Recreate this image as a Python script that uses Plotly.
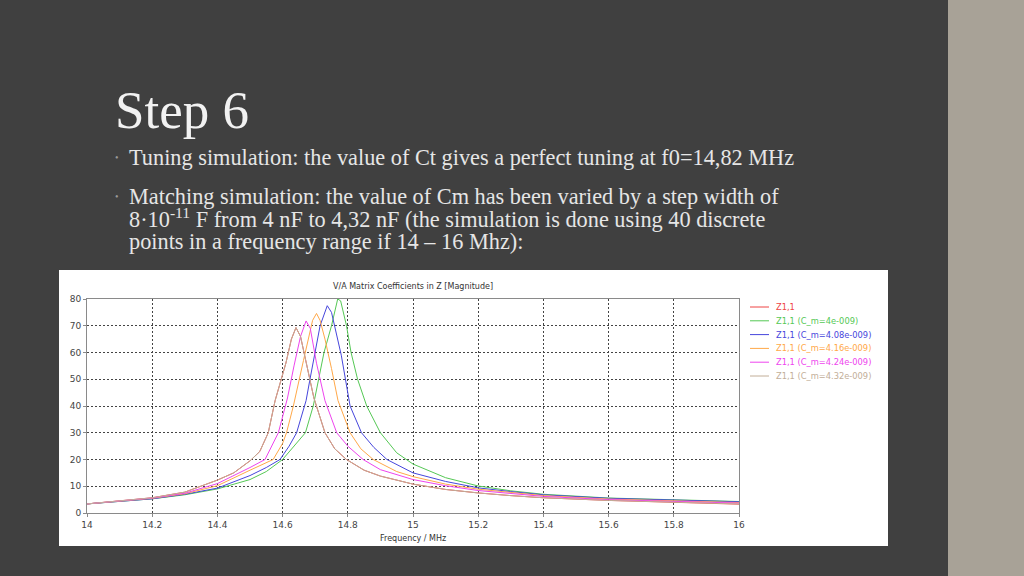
import plotly.graph_objects as go

# ---------------- data ----------------
x_ticks = [14.0, 14.2, 14.4, 14.6, 14.8, 15.0, 15.2, 15.4, 15.6, 15.8, 16.0]
x_tick_labels = ["14", "14.2", "14.4", "14.6", "14.8", "15", "15.2", "15.4", "15.6", "15.8", "16"]
y_ticks = [0, 10, 20, 30, 40, 50, 60, 70, 80]

series_names = ["Z1,1", "Z1,1 (C_m=4e-009)", "Z1,1 (C_m=4.08e-009)",
                "Z1,1 (C_m=4.16e-009)", "Z1,1 (C_m=4.24e-009)", "Z1,1 (C_m=4.32e-009)"]
series_colors = ["#ee4444", "#55c855", "#4646dc", "#ffa848", "#ee44ee", "#c2ae98"]

f_green = [14.0, 14.1, 14.2, 14.3, 14.4, 14.5, 14.55, 14.6, 14.64, 14.67, 14.694, 14.71, 14.727,
           14.75, 14.769, 14.778, 14.796, 14.81, 14.83, 14.858, 14.9, 14.95, 15.0, 15.1, 15.2,
           15.3, 15.4, 15.6, 15.8, 16.0]
v_green = [3.4, 4.3, 5.3, 6.8, 9.0, 12.5, 15.5, 20.0, 25.5, 30.0, 40.0, 50.0, 60.0,
           70.0, 80.0, 79.3, 70.0, 60.0, 50.0, 40.0, 30.0, 22.5, 18.3, 13.2, 10.1,
           8.3, 7.0, 5.6, 4.9, 4.3]

f_blue = [14.0, 14.1, 14.2, 14.3, 14.4, 14.5, 14.55, 14.592, 14.62, 14.643, 14.672, 14.684, 14.7,
          14.715, 14.737, 14.75, 14.78, 14.807, 14.842, 14.88, 14.92, 15.0, 15.1, 15.2,
          15.3, 15.4, 15.6, 15.8, 16.0]
v_blue = [3.4, 4.3, 5.3, 7.0, 9.3, 14.0, 17.0, 20.0, 25.0, 30.0, 42.0, 50.0, 60.0,
          70.0, 77.5, 75.0, 59.0, 40.0, 30.0, 24.5, 20.0, 15.0, 11.8, 9.4,
          8.0, 6.8, 5.5, 4.8, 4.2]

f_orange = [14.0, 14.1, 14.2, 14.3, 14.4, 14.5, 14.571, 14.6, 14.612, 14.633, 14.647, 14.664,
            14.692, 14.704, 14.715, 14.73, 14.75, 14.77, 14.807, 14.84, 14.878, 14.95, 15.0,
            15.1, 15.2, 15.3, 15.4, 15.6, 15.8, 16.0]
v_orange = [3.4, 4.4, 5.5, 7.2, 10.2, 16.0, 20.0, 26.0, 30.0, 40.0, 48.0, 57.0,
            72.0, 74.6, 72.0, 65.0, 54.0, 42.0, 30.0, 24.0, 20.0, 15.5, 13.6,
            10.8, 8.9, 7.6, 6.5, 5.2, 4.5, 3.9]

f_magenta = [14.0, 14.1, 14.2, 14.3, 14.4, 14.5, 14.546, 14.587, 14.615, 14.635, 14.655, 14.672,
             14.685, 14.704, 14.73, 14.766, 14.8, 14.847, 14.9, 15.0, 15.1, 15.2, 15.3, 15.4,
             15.6, 15.8, 16.0]
v_magenta = [3.4, 4.5, 5.6, 7.4, 11.0, 17.0, 20.0, 30.0, 43.0, 55.0, 66.0, 71.8,
             69.0, 56.0, 42.0, 30.0, 25.0, 20.0, 16.2, 12.5, 10.2, 8.4, 7.2, 6.2,
             5.0, 4.3, 3.7]

f_tan = [14.0, 14.1, 14.2, 14.3, 14.4, 14.45, 14.5, 14.53, 14.556, 14.577, 14.597, 14.61, 14.627,
         14.641, 14.655, 14.672, 14.696, 14.73, 14.76, 14.796, 14.85, 14.9, 15.0, 15.1, 15.2,
         15.3, 15.4, 15.6, 15.8, 16.0]
v_tan = [3.4, 4.5, 5.7, 7.8, 12.3, 15.0, 19.5, 23.0, 30.0, 42.0, 50.0, 56.0, 65.0,
         69.3, 66.0, 56.0, 43.0, 30.0, 24.0, 20.0, 16.0, 13.8, 10.8, 8.8, 7.5,
         6.5, 5.7, 4.7, 4.0, 3.4]

# base Z1,1 curve lies under the 4.32e-9 curve
f_red = f_tan
v_red = [3.4, 4.5, 5.7, 7.8, 12.3, 15.0, 19.5, 23.0, 30.0, 42.0, 50.0, 56.0, 65.0,
         69.3, 66.0, 56.0, 43.0, 30.0, 24.0, 20.0, 16.0, 13.8, 10.8, 8.8, 7.5,
         6.5, 5.7, 4.7, 3.9, 3.3]

series_x = [f_red, f_green, f_blue, f_orange, f_magenta, f_tan]
series_y = [v_red, v_green, v_blue, v_orange, v_magenta, v_tan]

# ---------------- figure ----------------
W, H = 1024, 576
def px(x):
    return x / W
def py(y):
    return 1 - y / H

fig = go.Figure()
for name, col, xs, ys in zip(series_names, series_colors, series_x, series_y):
    fig.add_trace(go.Scatter(x=xs, y=ys, mode="lines", name=name,
                             line=dict(color=col, width=1), showlegend=False))

bg = "#404040"
tick_font = dict(family="DejaVu Sans", size=9, color="#444")
fig.update_layout(
    width=W, height=H, autosize=False,
    margin=dict(l=0, r=0, t=0, b=0, pad=0, autoexpand=False),
    paper_bgcolor=bg, plot_bgcolor="white", showlegend=False,
    xaxis=dict(domain=[px(87), px(739)], range=[14, 16], tickvals=x_ticks,
               ticktext=x_tick_labels, showgrid=True, gridcolor="#444",
               griddash="2px,2px", gridwidth=1, showline=True, linecolor="#8a8a8a",
               mirror=True, ticks="outside", ticklen=3, tickcolor="#8a8a8a",
               tickfont=tick_font, zeroline=False, automargin=False),
    yaxis=dict(domain=[1 - 513 / H, 1 - 299 / H], range=[0, 80], tickvals=y_ticks,
               showgrid=True, gridcolor="#444", griddash="2px,2px", gridwidth=1,
               showline=True, linecolor="#8a8a8a", mirror=True, ticks="outside",
               ticklen=3, tickcolor="#8a8a8a",
               tickfont=tick_font, zeroline=False, automargin=False),
)

shapes = [
    dict(type="rect", xref="paper", yref="paper", x0=px(59), x1=px(888), y0=py(546), y1=py(270),
         fillcolor="white", line=dict(width=0), layer="below"),
    dict(type="rect", xref="paper", yref="paper", x0=px(948), x1=1, y0=0, y1=1,
         fillcolor="#a8a297", line=dict(width=0), layer="below"),
]

annotations = [
    dict(text="V/A Matrix Coefficients in Z [Magnitude]", x=px(413), y=py(286),
         xref="paper", yref="paper", showarrow=False, xanchor="center", yanchor="middle",
         font=dict(family="DejaVu Sans", size=8, color="#333")),
    dict(text="Frequency / MHz", x=px(413), y=py(538),
         xref="paper", yref="paper", showarrow=False, xanchor="center", yanchor="middle",
         font=dict(family="DejaVu Sans", size=8, color="#333")),
    dict(text="Step 6", x=px(113), y=py(110), xref="paper", yref="paper", showarrow=False,
         xanchor="left", yanchor="middle",
         font=dict(family="Liberation Serif", size=53, color="#f2f2f2")),
]

text_font = dict(family="Liberation Serif", size=22.3, color="#e6e6e6")
lines = [
    ("Tuning simulation: the value of Ct gives a perfect tuning at f0=14,82 MHz", 157, True),
    ("Matching simulation: the value of Cm has been varied by a step width of", 196, True),
    ("8·10<sup>-11</sup> F from 4 nF to 4,32 nF (the simulation is done using 40 discrete", 218, False),
    ("points in a frequency range if 14 – 16 Mhz):", 241, False),
]
for txt, yy, bullet in lines:
    annotations.append(dict(text=txt, x=px(127), y=py(yy), xref="paper", yref="paper",
                            showarrow=False, xanchor="left", yanchor="middle", font=text_font))
    if bullet:
        annotations.append(dict(text="•", x=px(117), y=py(yy), xref="paper", yref="paper",
                                showarrow=False, xanchor="center", yanchor="middle",
                                font=dict(family="Liberation Serif", size=10, color="#9a9a9a")))

# legend (custom, coloured text)
for i, (name, col) in enumerate(zip(series_names, series_colors)):
    yy = 307 + i * 13.8
    shapes.append(dict(type="line", xref="paper", yref="paper", x0=px(750), x1=px(769),
                       y0=py(yy), y1=py(yy), line=dict(color=col, width=1)))
    annotations.append(dict(text=name, x=px(774), y=py(yy), xref="paper", yref="paper",
                            showarrow=False, xanchor="left", yanchor="middle",
                            font=dict(family="DejaVu Sans", size=8.3, color=col)))

fig.update_layout(shapes=shapes, annotations=annotations)
fig.write_html("out.html", config={"displayModeBar": False},
               post_script="document.body.style.margin='0';document.body.style.overflow='hidden';")
